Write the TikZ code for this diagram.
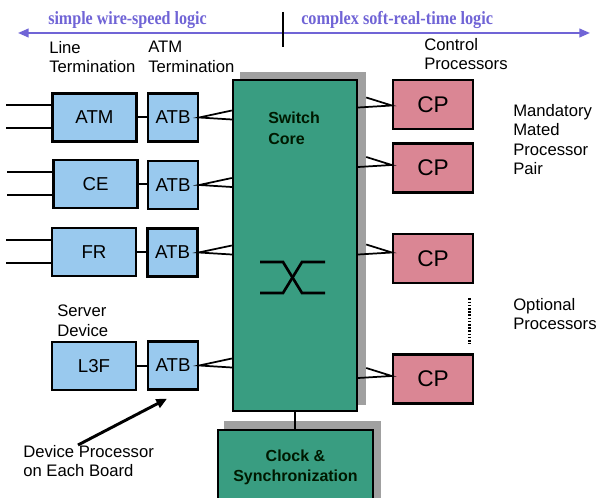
\documentclass[tikz,border=0pt]{standalone}
\usepackage{fontspec}
\usepackage{graphicx}
\setmainfont{Liberation Sans}
\newfontfamily\serifbf{Liberation Serif}
\usetikzlibrary{arrows.meta,calc,backgrounds}
\definecolor{boxblue}{RGB}{153,201,238}
\definecolor{coregreen}{RGB}{57,157,129}
\definecolor{cppink}{RGB}{218,134,148}
\definecolor{shadowgray}{RGB}{160,160,160}
\definecolor{purp}{RGB}{112,100,214}
\begin{document}
\begin{tikzpicture}[x=0.75pt,y=-0.75pt,
  ltbox/.style={draw=black, line width=1.8pt, fill=boxblue, minimum width=63pt, minimum height=36pt, inner sep=0pt, font=\fontsize{14}{16}\selectfont},
  atbbox/.style={ltbox, minimum width=37.5pt},
  cpbox/.style={draw=black, line width=1.8pt, fill=cppink, minimum width=60pt, minimum height=37pt, inner sep=0pt, font=\fontsize{17}{19}\selectfont},
  corebox/.style={draw=black, line width=1.8pt, fill=coregreen, minimum width=93pt, minimum height=248.25pt, inner sep=0pt},
  clockbox/.style={draw=black, line width=1.8pt, fill=coregreen, minimum width=116.25pt, minimum height=56.25pt, inner sep=0pt, align=center, font=\bfseries\fontsize{12}{15}\selectfont, text=black!90!green},
  coretext/.style={anchor=north west, inner sep=0pt, align=left, font=\bfseries\fontsize{12}{15.75}\selectfont, text=black!90!green},
  lbl/.style={anchor=north west, inner sep=0pt, align=left, font=\fontsize{12.5}{14.5}\selectfont},
  purptext/.style={anchor=base west, inner sep=0pt, text=purp, font=\serifbf\bfseries\fontsize{14}{16}\selectfont},
  conn/.style={line width=1.5pt},
  wedge/.style={line width=1.3pt},
  ptr/.style={line width=2.2pt, -{Triangle[length=8pt,width=7pt]}},
  purparrow/.style={draw=purp, line width=1.5pt, {Triangle[length=8pt,width=6.5pt]}-{Triangle[length=8pt,width=6.5pt]}},
  shadowfill/.style={fill=shadowgray}
]
\useasboundingbox (0,0) rectangle (597,498);

% top arrow and labels
\coordinate (al) at (18,33);
\coordinate (ar) at (590,33);
\draw[purparrow] (al) -- (ar);
\coordinate (t1) at (283,12);
\coordinate (t2) at (283,47);
\draw[line width=2pt] (t1) -- (t2);
\node[purptext] (simple) at (48,25) {\scalebox{0.86}[1]{simple wire-speed logic}};
\node[purptext] (complex) at (301,25) {\scalebox{0.87}[1]{complex soft-real-time logic}};

\node[lbl] (ltlabel) at (49,41) {Line\\Termination};
\node[lbl] (atlabel) at (148,41) {ATM\\Termination};
\node[lbl] (cplabel) at (424,38) {Control\\Processors};
\node[lbl] (mandlabel) at (513,104) {Mandatory\\Mated\\Processor\\Pair};
\node[lbl] (optlabel) at (513,298) {Optional\\Processors};
\node[lbl] (srvlabel) at (57,305) {Server\\Device};
\node[lbl] (devlabel) at (23,445) {Device Processor\\on Each Board};

% line termination boxes
\node[ltbox] (atm) at (94.5,117.5) {ATM};
\node[ltbox] (ce) at (95.5,184) {CE};
\node[ltbox] (fr) at (94,252) {FR};
\node[ltbox] (l3f) at (94,366) {L3F};

\node[atbbox] (atb1) at (173,117.5) {ATB};
\node[atbbox] (atb2) at (173,185) {ATB};
\node[atbbox] (atb3) at (172.5,252.5) {ATB};
\node[atbbox] (atb4) at (173,365.5) {ATB};

% input lines
\foreach \n in {atm,ce,fr}{
  \draw[conn] ($(\n.west)+(0,-12)$) -- ++(-45,0);
  \draw[conn] ($(\n.west)+(0,11)$) -- ++(-45,0);
}
\foreach \a/\b in {atm/atb1,ce/atb2,fr/atb3,l3f/atb4}{
  \draw[conn] (\a.east) -- (\b.west |- \a.east);
}

% switch core
\node[corebox] (core) at (295,245.5) {};
\node[coretext] (swlabel) at (268,111.5) {Switch\\Core};
\node[clockbox] (clock) at (295.5,467.5) {Clock \&\\Synchronization};
\begin{scope}[on background layer]
  \fill[white] (0,0) rectangle (597,498);
  \fill[shadowfill] ($(core.south west)+(8,-7)$) rectangle ($(core.north east)+(8,-7)$);
  \fill[shadowfill] ($(clock.south west)+(7,-8)$) rectangle ($(clock.north east)+(7,-8)$);
\end{scope}
\draw[conn] (core.south) -- (core.south |- clock.north);

% switch symbol
\draw[line width=2pt] (260,262) -- (283,262) -- (302,293) -- (325,293);
\draw[line width=2pt] (260,293) -- (283,293) -- (302,262) -- (325,262);

% control processors
\node[cpbox] (cp1) at (433,104.5) {CP};
\node[cpbox] (cp2) at (433,168) {CP};
\node[cpbox] (cp3) at (433,258.5) {CP};
\node[cpbox] (cp4) at (433,379) {CP};

% wedge connectors ATB -> core
\foreach \n in {atb1,atb2,atb3,atb4}{
  \draw[wedge] ($(core.west |- \n.east)+(0,-7)$) -- (\n.east) -- ($(core.west |- \n.east)+(0,2)$);
}
% wedge connectors core -> CP
\foreach \n/\d in {cp1/1,cp2/-3,cp3/-6,cp4/-3}{
  \draw[wedge] ($(core.east |- \n.west)+(8,\d-8)$) -- ($(\n.west)+(0,\d)$) -- ($(core.east |- \n.west)+(0,\d+2)$);
}

% dotted line between optional CPs
\draw[line width=2pt, dash pattern=on 1.2pt off 1.2pt] ($(cp3.south east)+(-5,14)$) -- ($(cp4.north east)+(-5,-9)$);

% pointer arrow
\draw[ptr] ($(devlabel.north west)+(55,0)$) -- ($(atb4.south)+(-6,8)$);
\end{tikzpicture}
\end{document}
